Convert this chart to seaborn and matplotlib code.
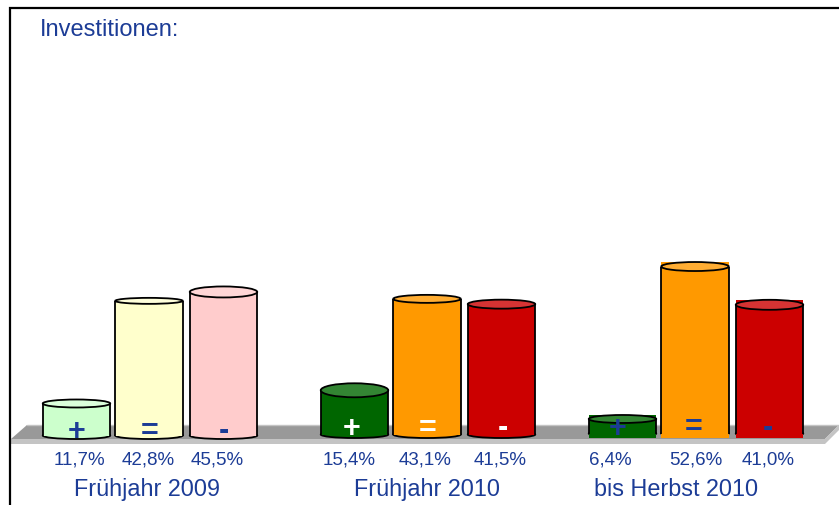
import matplotlib
matplotlib.use("Agg")
import matplotlib.pyplot as plt
from matplotlib.patches import Ellipse, Polygon, Rectangle
import pandas as pd
import seaborn as sns

# Data
groups = ["Frühjahr 2009", "Frühjahr 2010", "bis Herbst 2010"]
signs = ["+", "=", "-"]
values_2009 = [11.7, 42.8, 45.5]
values_2010 = [15.4, 43.1, 41.5]
values_herbst = [6.4, 52.6, 41.0]
pct_labels = ["11,7%", "42,8%", "45,5%", "15,4%", "43,1%", "41,5%", "6,4%", "52,6%", "41,0%"]
title = "Investitionen:"

# Colours per bar, body and lighter top
body_colors = ["#CCFFCC", "#FFFFCC", "#FFCCCC", "#006600", "#FF9900", "#CC0000", "#006600", "#FF9900", "#CC0000"]
top_colors = ["#DBFFDB", "#FFFFDB", "#FFD6D6", "#338533", "#FFAD33", "#D63333", "#338533", "#FFAD33", "#D63333"]
sign_colors = ["#1C3C96"] * 3 + ["white"] * 3 + ["#1C3C96"] * 3
blue = "#1C3C96"

# Layout in pixels of the 839x506 picture
W, H = 839, 506
group_x = [76.5, 354.5, 622.5]
slot_x = [0, 72.5, 147]
base_px = [436.5, 435.5, 434.5]
top_h = [8, 6, 11, 14, 8, 9, 8, 9, 10]
pct_x = [79.5, 148.5, 217, 349, 425, 500, 610, 695.5, 768]
group_label_x = [146.5, 426.5, 676]
sign_x = [77, 150, 224, 352, 428, 503, 618, 693.5, 768]
sign_y = [432, 432, 431, 429, 429, 428, 429, 428, 428]
px_per_pct = 3.3
floor_value = 2.0


def py(y_px):
    # pixel row -> value on the y axis
    return floor_value + (base_px[0] - y_px) / px_per_pct


rows = []
for g, vals, gx in zip(groups, [values_2009, values_2010, values_herbst], group_x):
    for s, v, off in zip(signs, vals, slot_x):
        rows.append({"gruppe": g, "zeichen": s, "key": g + " " + s, "pos": gx + off, "wert": v})
df = pd.DataFrame(rows)

sns.set_theme(style="white")
plt.rcParams["font.family"] = ["Liberation Sans", "DejaVu Sans"]

fig = plt.figure(figsize=(W / 100, H / 100), dpi=100)
ax = fig.add_axes([0, 0, 1, 1])

sns.barplot(data=df, x="pos", y="wert", hue="key", palette=body_colors, native_scale=True, saturation=1,
            dodge=False, width=67.5 / 72.5, legend=False, errorbar=None, linewidth=0, zorder=3, ax=ax)

ax.set_xlim(0, W)
ax.set_ylim(py(H), py(0))
ax.axis("off")

# Turn the flat bars into cylinders
bars = sorted(ax.patches, key=lambda p: p.get_x())

# Grey floor
ax.add_patch(Polygon([(11, py(440)), (27, py(426)), (839, py(426)), (825, py(440))],
                     closed=True, fc="#999999", ec="none", zorder=1))
ax.add_patch(Polygon([(11, py(440)), (825, py(440)), (825, py(445)), (11, py(445))],
                     closed=True, fc="#C4C4C4", ec="none", zorder=1))
ax.add_patch(Polygon([(825, py(440)), (839, py(426)), (839, py(431)), (825, py(445))],
                     closed=True, fc="#C4C4C4", ec="none", zorder=1))
ax.plot([27, 839], [py(426), py(426)], color="#C4C4C4", lw=1, zorder=1)

for i, bar in enumerate(bars):
    v = df["wert"].iloc[i]
    base = py(base_px[i // 3])
    top = base + (v - floor_value)
    x0 = bar.get_x()
    w = bar.get_width()
    xc = x0 + w / 2
    bar.set_y(base)
    bar.set_height(v - floor_value)

    ax.add_patch(Ellipse((xc, base), w, 7 / px_per_pct, fc=body_colors[i], ec="black", lw=1.3, zorder=2))
    h = top_h[i] / px_per_pct
    if i >= 6:
        # last group shows square corners behind the round shape
        ax.add_patch(Rectangle((x0, base - 4 / px_per_pct), w, top - base + h / 2 + 4 / px_per_pct,
                               fc=body_colors[i], ec="none", zorder=2))
    ax.add_patch(Ellipse((xc, top), w, h, fc=top_colors[i], ec="black", lw=1.3, zorder=5))
    ax.plot([x0, x0], [base, top], color="black", lw=1.3, zorder=4, solid_capstyle="butt")
    ax.plot([x0 + w, x0 + w], [base, top], color="black", lw=1.3, zorder=4, solid_capstyle="butt")

    ax.text(sign_x[i], py(sign_y[i]), df["zeichen"].iloc[i], color=sign_colors[i], fontsize=22,
            fontweight="bold", ha="center", va="center", zorder=6)
    ax.text(pct_x[i], py(460), pct_labels[i], color=blue, fontsize=13.5, ha="center", va="center")

for g, x in zip(groups, group_label_x):
    ax.text(x, py(489.5), g, color=blue, fontsize=16.8, ha="center", va="center")

ax.text(40, py(30), title, color=blue, fontsize=17, ha="left", va="center")

# Frame, only left and top
ax.plot([9.5, 9.5, W], [py(H), py(8.5), py(8.5)], color="black", lw=1.6, zorder=7, solid_joinstyle="miter")

fig.savefig("out.png", dpi=100)
